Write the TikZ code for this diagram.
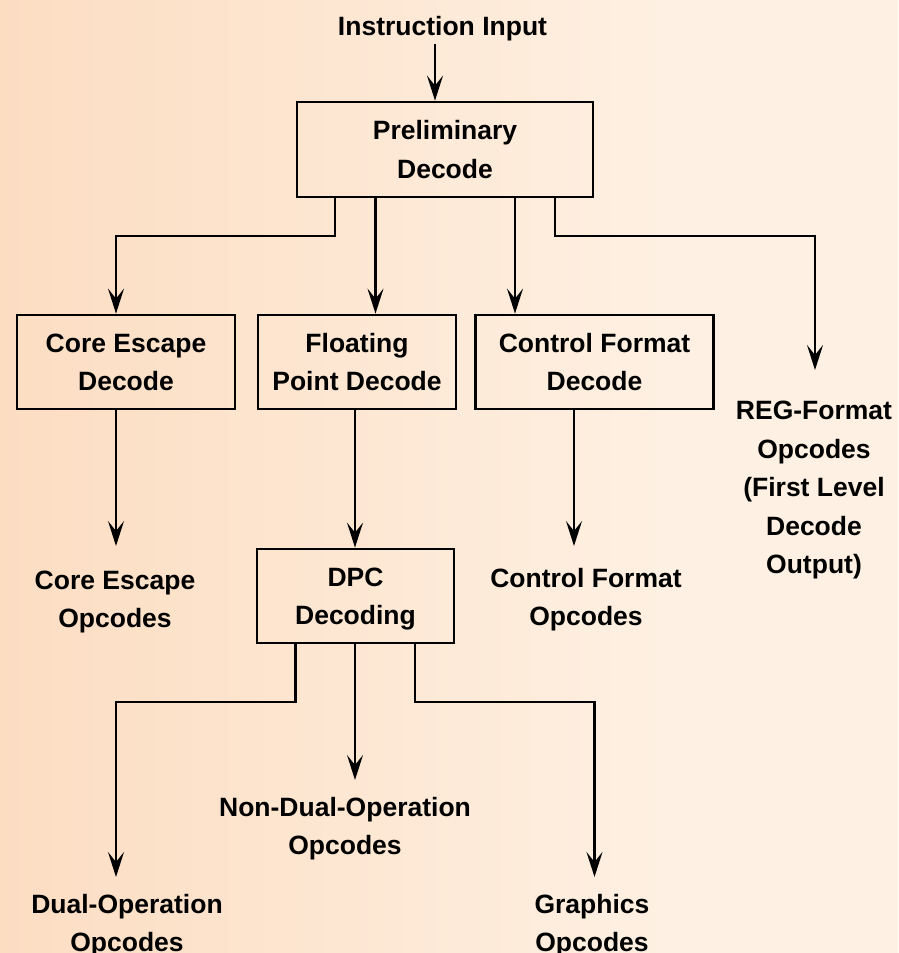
\documentclass[tikz,border=0pt]{standalone}
\usepackage{fontspec}
\setmainfont{Liberation Sans}
\usetikzlibrary{arrows.meta}
\definecolor{bgl}{RGB}{252,221,194}
\definecolor{bgr}{RGB}{254,240,226}
\pgfdeclarehorizontalshading{bgshade}{100bp}{color(0bp)=(bgl); color(25bp)=(bgl); color(62bp)=(bgr); color(100bp)=(bgr)}
\newcommand{\topst}{\rule{0pt}{27pt}}
\newcommand{\botst}{\rule[-8pt]{0pt}{8pt}}
\begin{document}
\begin{tikzpicture}[x=1pt,y=-1pt,
  lbl/.style={font=\fontsize{26.5}{38.5}\selectfont\bfseries, align=center, inner sep=0pt},
  blk/.style={lbl, draw, line width=2.8pt},
  arr/.style={line width=2.2pt, -{Stealth[length=25pt,width=16pt,inset=10pt]}}]
\shade[shading=bgshade] (0,0) rectangle (898,953);
\useasboundingbox (0,0) rectangle (898,953);
% nodes
\node[lbl] (in) at (442.5,26) {\topst Instruction Input\botst};
\node[blk, minimum width=296pt, minimum height=95pt] (pre) at (445,149.5) {\topst Preliminary\\Decode\botst};
\node[blk, minimum width=218pt, minimum height=94pt] (ce) at (126,362) {\topst Core Escape\\Decode\botst};
\node[blk, minimum width=198pt, minimum height=94pt] (fp) at (357,362) {\topst Floating\\Point Decode\botst};
\node[blk, minimum width=238pt, minimum height=94pt] (cf) at (594.5,362) {\topst Control Format\\Decode\botst};
\node[blk, minimum width=197pt, minimum height=94pt] (dpc) at (355.5,596) {\topst DPC\\Decoding\botst};
\node[lbl] (reg) at (814,487) {\topst REG-Format\\Opcodes\\(First Level\\Decode\\Output)\botst};
\node[lbl] (ceo) at (115,599) {\topst Core Escape\\Opcodes\botst};
\node[lbl] (cfo) at (586,597) {\topst Control Format\\Opcodes\botst};
\node[lbl] (dual) at (127,923) {\topst Dual-Operation\\Opcodes\botst};
\node[lbl] (ndo) at (345,826) {\topst Non-Dual-Operation\\Opcodes\botst};
\node[lbl] (gro) at (592,923) {\topst Graphics\\Opcodes\botst};
% free connector ends
\coordinate (regin) at (815,370);
\coordinate (ceoin) at (116,546);
\coordinate (cfoin) at (574,546);
\coordinate (ndoin) at (355,780);
\coordinate (dualin) at (116,877);
\coordinate (groin) at (594.5,877);
% connectors
\draw[arr] (in.south -| 435,0) -- (pre.north -| 435,0);
\draw[arr] (pre.south -| 335,0) -- (335,236) -| (ce.north -| 116,0);
\draw[arr] (pre.south -| 375.5,0) -- (fp.north -| 375.5,0);
\draw[arr] (pre.south -| 515,0) -- (cf.north -| 515,0);
\draw[arr] (pre.south -| 555,0) -- (555,236) -| (regin);
\draw[arr] (ce.south -| 116,0) -- (ceoin);
\draw[arr] (fp.south -| 355,0) -- (dpc.north -| 355,0);
\draw[arr] (cf.south -| 574,0) -- (cfoin);
\draw[arr] (dpc.south -| 295.5,0) -- (295.5,702) -| (dualin);
\draw[arr] (dpc.south -| 355,0) -- (ndoin);
\draw[arr] (dpc.south -| 415,0) -- (415,702) -| (groin);
\end{tikzpicture}
\end{document}
